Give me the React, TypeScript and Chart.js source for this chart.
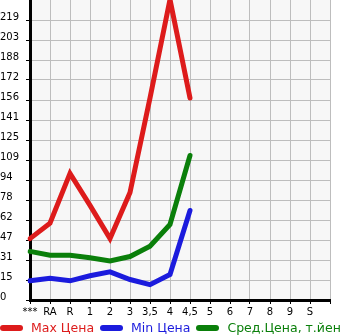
import React, { useEffect, useRef } from "react";
import { Chart, registerables } from "chart.js";

Chart.register(...registerables);

const categories = ["***", "RA", "R", "1", "2", "3", "3,5", "4", "4,5", "5", "6", "7", "8", "9", "S", ""];
const maxPrice = [48, 60, 99, 74, 48, 84, 158, 235, 158];
const minPrice = [15, 17, 15, 19, 22, 16, 12, 20, 70];
const avgPrice = [38, 35, 35, 33, 30.5, 34, 42, 59, 113];
const yTickLabels = ["0", "15", "31", "47", "62", "78", "94", "109", "125", "141", "156", "172", "188", "203", "219"];
const yStep = 15.64;

const RED = "#dd1b1b";
const BLUE = "#1b1bdd";
const GREEN = "#0a7f0a";

const legendItems = [
  { label: "Max Цена", color: RED },
  { label: "Min Цена", color: BLUE },
  { label: "Сред.Цена, т.йен", color: GREEN },
];

const bgPlugin = {
  id: "plotBg",
  beforeDraw(chart: any) {
    const { ctx, chartArea } = chart;
    ctx.save();
    ctx.fillStyle = "#f7f7f7";
    ctx.fillRect(chartArea.left, chartArea.top, chartArea.right - chartArea.left, chartArea.bottom - chartArea.top);
    ctx.restore();
  },
};

export default function App() {
  const ref = useRef<HTMLCanvasElement | null>(null);
  useEffect(() => {
    if (!ref.current) return;
    const font = { family: "'DejaVu Sans', sans-serif", size: 10 };
    const line = (label: string, data: number[], color: string) => ({
      label,
      data,
      borderColor: color,
      backgroundColor: color,
      borderWidth: 5,
      pointRadius: 0,
      borderCapStyle: "round",
      tension: 0,
    });
    const chart = new Chart(ref.current, {
      type: "line",
      data: {
        labels: categories,
        datasets: [
          line("Max Цена", maxPrice, RED),
          line("Min Цена", minPrice, BLUE),
          line("Сред.Цена, т.йен", avgPrice, GREEN),
        ],
      },
      plugins: [bgPlugin],
      options: {
        animation: false,
        responsive: false,
        layout: { padding: { left: 0, right: 15, top: 0, bottom: 0 } },
        plugins: { legend: { display: false }, tooltip: { enabled: false } },
        scales: {
          x: {
            type: "category",
            offset: false,
            border: { color: "#000", width: 3 },
            grid: { color: "#bdbdbd", lineWidth: 1, tickColor: "#000", tickLength: 4, offset: false },
            ticks: { color: "#000", font, maxRotation: 0, autoSkip: false, padding: 2 },
            afterFit: (s: any) => { s.height = 35; s.paddingLeft = 0; s.paddingRight = 0; },
          },
          y: {
            type: "linear",
            min: 0,
            max: yStep * 15,
            border: { color: "#000", width: 3 },
            grid: { color: "#bdbdbd", lineWidth: 1, tickColor: "#000", tickLength: 4 },
            afterBuildTicks: (s: any) => {
              s.ticks = yTickLabels.map((_, i) => ({ value: i * yStep }));
            },
            ticks: {
              color: "#000",
              font,
              crossAlign: "far",
              labelOffset: -3,
              autoSkip: false,
              callback: (_v: any, i: number) => yTickLabels[i] ?? "",
            },
            afterFit: (s: any) => { s.width = 30; s.paddingTop = 0; s.paddingBottom = 0; },
          },
        },
      } as any,
    } as any);
    return () => chart.destroy();
  }, []);

  return (
    <div style={{ position: "fixed", left: 0, top: 0, width: 345, height: 335, overflow: "hidden", background: "#fff" }}>
      <canvas ref={ref} width={345} height={335} style={{ display: "block" }} />
      <div
        style={{
          position: "absolute",
          left: 0,
          top: 321,
          height: 14,
          display: "flex",
          alignItems: "center",
          whiteSpace: "nowrap",
          fontFamily: "'DejaVu Sans', sans-serif",
          fontSize: 12.5,
          lineHeight: "14px",
        }}
      >
        {legendItems.map((it) => (
          <span key={it.label} style={{ display: "flex", alignItems: "center", marginRight: 6 }}>
            <span style={{ display: "inline-block", width: 23, height: 6, borderRadius: 3, background: it.color, marginRight: 8 }} />
            <span style={{ color: it.color }}>{it.label}</span>
          </span>
        ))}
      </div>
    </div>
  );
}
